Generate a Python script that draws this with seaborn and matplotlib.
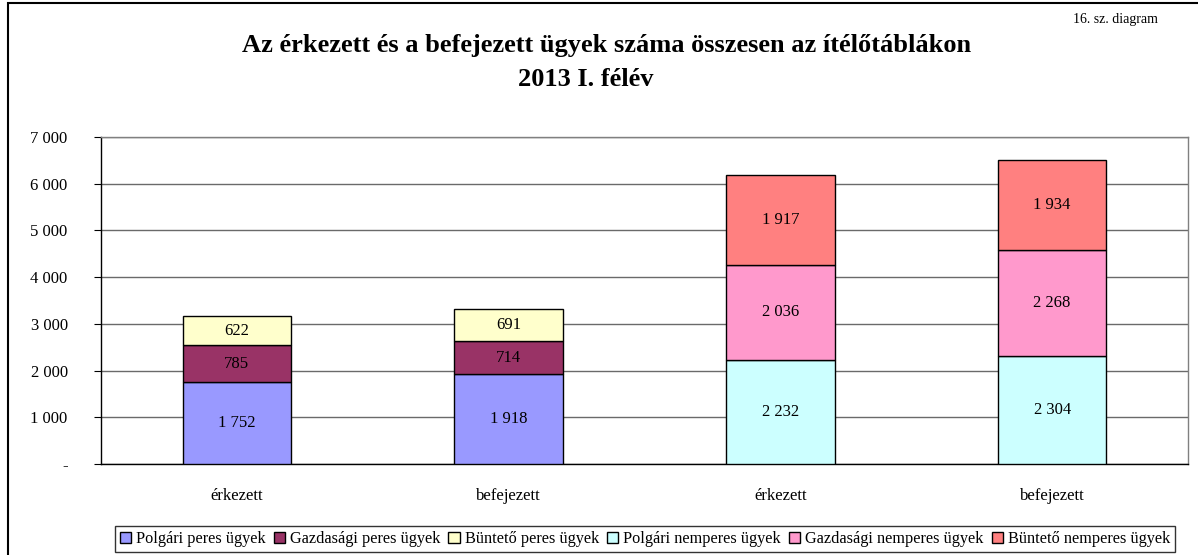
import pandas as pd
import matplotlib.pyplot as plt
import seaborn as sns
from matplotlib.patches import Rectangle
from matplotlib.ticker import FuncFormatter, FixedLocator

# Data
slots = ['peres_erk', 'peres_bef', 'nemperes_erk', 'nemperes_bef']
tick_labels = ['érkezett', 'befejezett', 'érkezett', 'befejezett']
peres_slots = slots[:2]
nemperes_slots = slots[2:]

series_names = ['Polgári peres ügyek', 'Gazdasági peres ügyek', 'Büntető peres ügyek',
                'Polgári nemperes ügyek', 'Gazdasági nemperes ügyek', 'Büntető nemperes ügyek']
polgari_peres = [1752, 1918]
gazdasagi_peres = [785, 714]
bunteto_peres = [622, 691]
polgari_nemperes = [2232, 2304]
gazdasagi_nemperes = [2036, 2268]
bunteto_nemperes = [1917, 1934]
colors = ['#9999FF', '#993366', '#FFFFCC', '#CCFFFF', '#FF99CC', '#FF8080']

stacks = [
    (peres_slots, [polgari_peres, gazdasagi_peres, bunteto_peres]),
    (nemperes_slots, [polgari_nemperes, gazdasagi_nemperes, bunteto_nemperes]),
]

sns.set_style('white')
plt.rcParams['font.family'] = ['Liberation Serif', 'DejaVu Serif']
plt.rcParams['text.color'] = 'black'
plt.rcParams['xtick.color'] = 'black'
plt.rcParams['ytick.color'] = 'black'

fig = plt.figure(figsize=(11.98, 5.55), dpi=100)
ax = fig.add_axes([101 / 1198, 1 - 464 / 555, 1087 / 1198, 327 / 555])

handles = []
k = 0
for group_slots, group_series in stacks:
    bottom = [0] * len(group_slots)
    for values in group_series:
        df = pd.DataFrame({'slot': group_slots, 'value': values})
        sns.barplot(data=df, x='slot', y='value', order=slots, color=colors[k],
                    saturation=1, width=0.4, bottom=bottom, edgecolor='black',
                    linewidth=1.0, ax=ax, zorder=3)
        cont = ax.containers[-1]
        handles.append(cont)
        ax.bar_label(cont, labels=[f'{v:,}'.replace(',', ' ') for v in values],
                     label_type='center', fontsize=12, color='black')
        bottom = [b + v for b, v in zip(bottom, values)]
        k += 1

ax.set_xlim(-0.5, 3.5)
ax.set_ylim(0, 7000)
ax.set_yticks(range(0, 7001, 1000))
ax.yaxis.set_major_formatter(FuncFormatter(
    lambda v, p: '-' if v == 0 else f'{int(v):,}'.replace(',', ' ')))
ax.set_xticks(range(4))
ax.set_xticklabels(tick_labels, fontsize=12)
ax.tick_params(axis='x', length=0, pad=17)
ax.xaxis.set_minor_locator(FixedLocator([0.5, 1.5, 2.5]))
ax.tick_params(axis='x', which='minor', length=5, color='#808080', width=1, direction='out')
ax.tick_params(axis='y', length=5, direction='out', left=True, color='black', pad=19, labelsize=12)
ax.set_xlabel('')
ax.set_ylabel('')
ax.yaxis.grid(True, color='#6a6a6a', linewidth=1.0)
ax.set_axisbelow(True)
for s in ['top', 'right']:
    ax.spines[s].set_color('#808080')
for s in ['left', 'bottom']:
    ax.spines[s].set_color('black')
for s in ax.spines.values():
    s.set_linewidth(1.0)

fig.text(607 / 1198, 1 - 45 / 555, 'Az érkezett és a befejezett ügyek száma összesen az ítélőtáblákon',
         ha='center', va='center', fontsize=19, fontweight='bold')
fig.text(586 / 1198, 1 - 79 / 555, '2013 I. félév', ha='center', va='center', fontsize=19,
         fontweight='bold')
fig.text(1115 / 1198, 1 - 19 / 555, '16. sz. diagram', ha='center', va='center', fontsize=10)

leg = fig.legend(handles, series_names, loc='center', bbox_to_anchor=(645 / 1198, 1 - 539 / 555),
                 ncol=6, frameon=True, fancybox=False, edgecolor='black', fontsize=11.7,
                 handlelength=0.7, handleheight=0.7, handletextpad=0.3, columnspacing=0.5,
                 borderpad=0.3)
leg.get_frame().set_linewidth(1.0)

# outer chart frame
fig.patches.append(Rectangle((8 / 1198, -0.1), 1.2, 1.1 - 3 / 555, transform=fig.transFigure,
                             fill=False, edgecolor='black', linewidth=1.5, zorder=0))

fig.savefig('out.png', dpi=100)
